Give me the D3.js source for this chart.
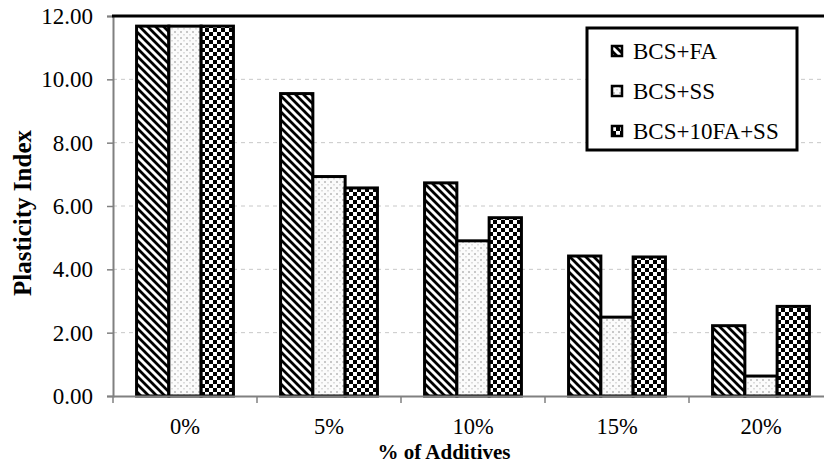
<!DOCTYPE html>
<html lang="en">
<head>
   <meta charset="UTF-8">
   <title>Plasticity Index</title>
   <style>
      body { margin: 0; background: #fff; }
   </style>
   <script src="https://cdn.jsdelivr.net/npm/d3@7"></script>
</head>
<body>
   <svg id="chart" width="824" height="463"></svg>
   <script>
      // data
      const categories = ['0%', '5%', '10%', '15%', '20%']
      const series = ['BCS+FA', 'BCS+SS', 'BCS+10FA+SS']
      const fa = [11.68, 9.55, 6.73, 4.42, 2.22]
      const ss = [11.68, 6.93, 4.90, 2.49, 0.63]
      const faSs = [11.68, 6.57, 5.63, 4.39, 2.83]
      const yTicks = [0, 2, 4, 6, 8, 10, 12]

      const FONT = '"Liberation Serif", "Times New Roman", serif'

      const values = [fa, ss, faSs]
      const rows = categories.map((c, i) => ({
         cat: c,
         vals: series.map((s, j) => ({ key: s, v: values[j][i] }))
      }))

      const svg = d3.select('#chart')
      const padding = { top: 16, left: 113, bottom: 67 }
      const plotRight = 833
      const HEIGHT = 463 - padding.top - padding.bottom

      const defs = svg.append('defs')

      // wide downward diagonal
      const p1 = defs.append('pattern').attr('id', 'pat-fa')
         .attr('width', 8).attr('height', 8).attr('patternUnits', 'userSpaceOnUse')
      p1.append('rect').attr('width', 8).attr('height', 8).attr('fill', '#fff')
      p1.append('path').attr('d', 'M-2,-2 L10,10 M-2,6 L2,10 M6,-2 L10,2')
         .attr('stroke', '#000').attr('stroke-width', 2.8)

      // dotted
      const p2 = defs.append('pattern').attr('id', 'pat-ss')
         .attr('width', 6).attr('height', 6).attr('patternUnits', 'userSpaceOnUse')
      p2.append('rect').attr('width', 6).attr('height', 6).attr('fill', '#fbfbfb')
      p2.append('rect').attr('x', 1).attr('y', 1).attr('width', 2).attr('height', 2).attr('fill', '#c8c8c8')
      p2.append('rect').attr('x', 4).attr('y', 4).attr('width', 2).attr('height', 1.5).attr('fill', '#dcdcdc')

      // checkerboard
      const p3 = defs.append('pattern').attr('id', 'pat-fass')
         .attr('width', 8).attr('height', 8).attr('patternUnits', 'userSpaceOnUse')
      p3.append('rect').attr('width', 8).attr('height', 8).attr('fill', '#fff')
      p3.append('rect').attr('x', 0).attr('y', 0).attr('width', 4).attr('height', 4).attr('fill', '#000')
      p3.append('rect').attr('x', 4).attr('y', 4).attr('width', 4).attr('height', 4).attr('fill', '#000')

      const fills = d3.scaleOrdinal().domain(series)
         .range(['url(#pat-fa)', 'url(#pat-ss)', 'url(#pat-fass)'])

      // scales
      const x0 = d3.scaleBand().domain(categories).range([padding.left, plotRight])
      const x1 = d3.scaleBand().domain(series).range([0, x0.bandwidth()])
         .paddingInner(0).paddingOuter(0.73)
      const y = d3.scaleLinear().domain([0, 12]).range([padding.top + HEIGHT, padding.top])

      // grid
      svg.append('g').selectAll('line')
         .data(yTicks.filter(t => t > 0 && t < 12))
         .enter().append('line')
         .attr('x1', padding.left).attr('x2', 824)
         .attr('y1', d => y(d)).attr('y2', d => y(d))
         .attr('stroke', '#c8c8c8').attr('stroke-dasharray', '4,4')

      // bars
      svg.append('g').selectAll('g')
         .data(rows).enter().append('g')
         .attr('transform', d => `translate(${x0(d.cat)},0)`)
         .selectAll('rect')
         .data(d => d.vals).enter().append('rect')
         .attr('x', d => x1(d.key))
         .attr('y', d => y(d.v))
         .attr('width', x1.bandwidth())
         .attr('height', d => y(0) - y(d.v))
         .attr('fill', d => fills(d.key))
         .attr('stroke', '#000').attr('stroke-width', 3)

      // axes
      const yAxis = d3.axisLeft(y).tickValues(yTicks).tickFormat(d3.format('.2f'))
         .tickSize(6).tickPadding(14)
      const gy = svg.append('g').attr('transform', `translate(${padding.left},0)`).call(yAxis)
      gy.select('.domain').attr('stroke', '#808080').attr('stroke-width', 2)
      gy.selectAll('.tick line').attr('stroke', '#808080').attr('stroke-width', 1.5)
      gy.selectAll('.tick text')
         .style('font-family', FONT).style('font-size', '23px').attr('fill', '#000')

      const xAxis = d3.axisBottom(x0).tickSize(0).tickPadding(22)
      const gx = svg.append('g').attr('transform', `translate(0,${y(0)})`).call(xAxis)
      gx.select('.domain').attr('stroke', '#808080').attr('stroke-width', 2)
      gx.selectAll('.tick text')
         .style('font-family', FONT).style('font-size', '22.5px').attr('fill', '#000')
      // category boundary ticks
      gx.append('g').selectAll('line')
         .data(categories).enter().append('line')
         .attr('x1', d => x0(d)).attr('x2', d => x0(d))
         .attr('y1', 0).attr('y2', 7)
         .attr('stroke', '#808080').attr('stroke-width', 1.5)

      // top border of plot area
      svg.append('line')
         .attr('x1', padding.left - 1).attr('x2', 824)
         .attr('y1', y(12)).attr('y2', y(12))
         .attr('stroke', '#000').attr('stroke-width', 3)

      // axis titles
      svg.append('text')
         .attr('transform', 'translate(31,213) rotate(-90)')
         .attr('text-anchor', 'middle')
         .style('font-family', FONT).style('font-size', '25px').style('font-weight', 'bold')
         .text('Plasticity Index')

      svg.append('text')
         .attr('x', 444).attr('y', 459)
         .attr('text-anchor', 'middle')
         .style('font-family', FONT).style('font-size', '21px').style('font-weight', 'bold')
         .text('% of Additives')

      // legend
      const legend = svg.append('g').attr('transform', 'translate(587,28)')
      legend.append('rect')
         .attr('width', 210).attr('height', 122)
         .attr('fill', '#fff').attr('stroke', '#000').attr('stroke-width', 3)
      const items = legend.selectAll('g.item')
         .data(series).enter().append('g')
         .attr('transform', (d, i) => `translate(25,${23 + i * 40})`)
      items.append('rect')
         .attr('x', 0).attr('y', -5).attr('width', 10).attr('height', 10)
         .attr('fill', d => fills(d)).attr('stroke', '#000').attr('stroke-width', 2.5)
      items.append('text')
         .attr('x', 21).attr('y', 8)
         .style('font-family', FONT).style('font-size', '23px')
         .text(d => d)
   </script>
</body>
</html>
